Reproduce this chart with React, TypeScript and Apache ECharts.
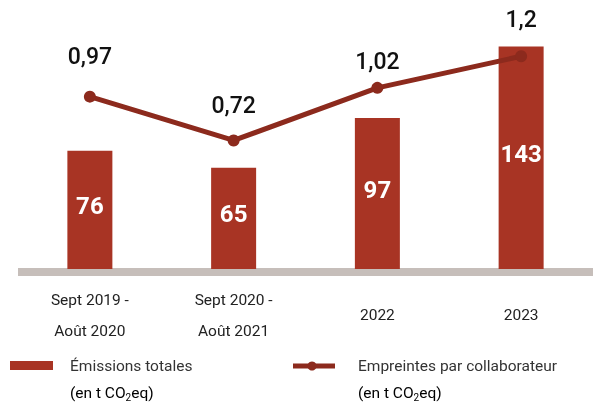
import React, { useEffect, useRef } from "react";
import * as echarts from "echarts";

const categories = ["Sept 2019 -\nAoût 2020", "Sept 2020 -\nAoût 2021", "2022", "2023"];
const emissions = [76, 65, 97, 143];
const empreintes = [0.97, 0.72, 1.02, 1.2];
const legendBar = "Émissions totales";
const legendLine = "Empreintes par collaborateur";

// label lift above each line point (style only)
const lineLabelDistance = [23, 17, 9, 19];

const BAR = "#a83424";
const LINE = "#8c2a1d";
const SANS = 'Roboto, "Noto Sans", sans-serif';

export default function App() {
  const ref = useRef<HTMLDivElement>(null);
  useEffect(() => {
    if (!ref.current) return;
    const chart = echarts.init(ref.current, undefined, { renderer: "svg" });
    const unitRich = {
      a: { fontFamily: SANS, fontSize: 15.5, color: "#333", lineHeight: 20 },
      s: { fontFamily: SANS, fontSize: 10, color: "#333", lineHeight: 20, padding: [9, 0, 0, 0] },
    };
    chart.setOption({
      animation: false,
      grid: { left: 18, right: -5, top: 20, bottom: 134 },
      xAxis: {
        type: "category",
        data: categories,
        offset: 3,
        z: 1,
        axisTick: { show: false },
        axisLine: {
          show: true,
          onZero: false,
          lineStyle: { color: "#c6beba", width: 8, cap: "butt" },
        },
        axisLabel: {
          margin: 43,
          verticalAlign: "middle",
          lineHeight: 31,
          fontSize: 15.5,
          fontFamily: SANS,
          color: "#222",
        },
      },
      yAxis: [
        { type: "value", min: 0, max: 160, show: false, splitLine: { show: false } },
        { type: "value", min: -0.013, max: 1.407, show: false, splitLine: { show: false } },
      ],
      series: [
        {
          name: legendBar,
          type: "bar",
          data: emissions,
          barWidth: 45,
          z: 3,
          itemStyle: { color: BAR },
          label: {
            show: true,
            position: "inside",
            offset: [0, -4],
            color: "#fff",
            fontFamily: SANS,
            fontWeight: "bold",
            fontSize: 24,
          },
        },
        {
          name: legendLine,
          type: "line",
          yAxisIndex: 1,
          data: empreintes.map((v, i) => ({ value: v, label: { distance: lineLabelDistance[i] } })),
          z: 5,
          symbol: "circle",
          symbolSize: 12,
          lineStyle: { color: LINE, width: 5 },
          itemStyle: { color: LINE },
          label: {
            show: true,
            position: "top",
            color: "#111",
            fontFamily: SANS,
            fontWeight: 500,
            fontSize: 23,
            formatter: (p: any) => String(p.value).replace(".", ","),
          },
        },
      ],
      graphic: [
        { type: "rect", shape: { x: 10, y: 361, width: 43, height: 9 }, style: { fill: BAR } },
        { type: "text", x: 70, y: 366, style: { text: legendBar, fontFamily: SANS, fontSize: 15.5, fill: "#333", verticalAlign: "middle" } },
        {
          type: "text", x: 70, y: 393,
          style: { text: "{a|(en t CO}{s|2}{a|eq)}", rich: unitRich, verticalAlign: "middle" },
        },
        { type: "line", shape: { x1: 293, y1: 366, x2: 335, y2: 366 }, style: { stroke: LINE, lineWidth: 5 } },
        { type: "circle", shape: { cx: 312, cy: 366, r: 4.5 }, style: { fill: LINE } },
        { type: "text", x: 358, y: 366, style: { text: legendLine, fontFamily: SANS, fontSize: 15.5, fill: "#333", verticalAlign: "middle" } },
        {
          type: "text", x: 358, y: 393,
          style: { text: "{a|(en t CO}{s|2}{a|eq)}", rich: unitRich, verticalAlign: "middle" },
        },
      ],
    });
    return () => chart.dispose();
  }, []);
  return <div ref={ref} style={{ position: "fixed", left: 0, top: 0, width: 593, height: 403 }} />;
}
